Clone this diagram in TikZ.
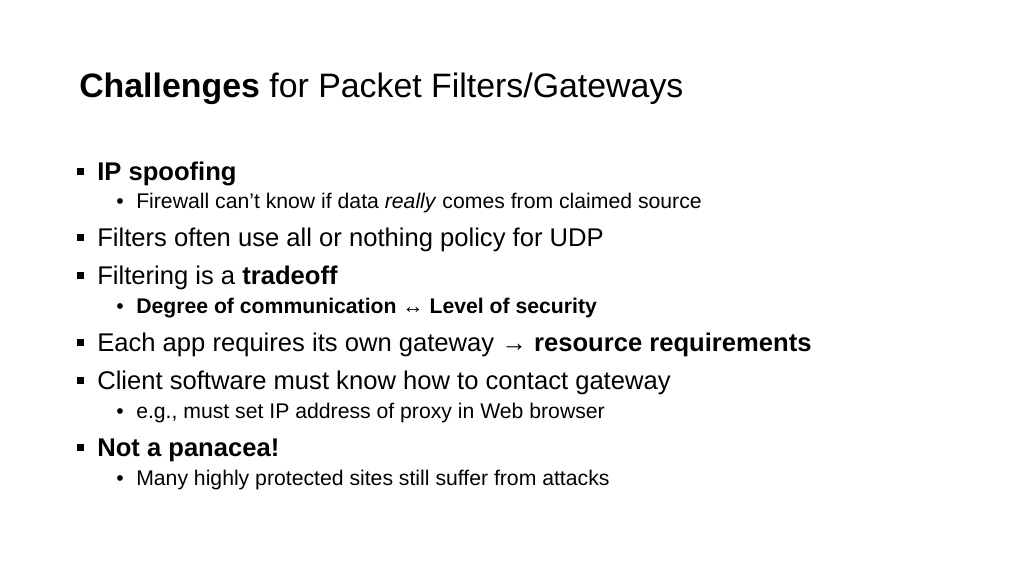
\documentclass[tikz,border=0pt]{standalone}
\usepackage{fontspec}
\setmainfont{Liberation Sans}
\usetikzlibrary{positioning}
\begin{document}
\begin{tikzpicture}[x=0.75pt,y=-0.75pt]
		\tikzset{title/.style = {anchor=base west, inner sep=0pt, font=\fontsize{25.4}{30}\selectfont}}
		\tikzset{itemA/.style = {anchor=base west, inner sep=0pt, font=\fontsize{19.2}{23}\selectfont}}
		\tikzset{itemB/.style = {anchor=base west, inner sep=0pt, font=\fontsize{15.9}{19}\selectfont}}
		\tikzset{boxbullet/.style = {fill=black, inner sep=0pt, minimum size=5.5pt}}
		\tikzset{dotbullet/.style = {anchor=base east, inner sep=0pt, font=\fontsize{15.9}{19}\selectfont}}
		
		\useasboundingbox (0,0) rectangle (1024,576);
		
		\node[title] (t) at (79,97) {\textbf{Challenges} for Packet Filters/Gateways};
		
		\node[itemA] (a1) at (97,180) {\textbf{IP spoofing}};
		\node[itemB] (b1) at (136,208) {Firewall can’t know if data \textit{really} comes from claimed source};
		\node[itemA] (a2) at (97,246) {Filters often use all or nothing policy for UDP};
		\node[itemA] (a3) at (97,284) {Filtering is a \textbf{tradeoff}};
		\node[itemB] (b2) at (136,313) {\textbf{Degree of communication ↔ Level of security}};
		\node[itemA] (a4) at (97,351) {Each app requires its own gateway → \textbf{resource requirements}};
		\node[itemA] (a5) at (97,389) {Client software must know how to contact gateway};
		\node[itemB] (b3) at (136,418) {e.g., must set IP address of proxy in Web browser};
		\node[itemA] (a6) at (97,456) {\textbf{Not a panacea!}};
		\node[itemB] (b4) at (136,485) {Many highly protected sites still suffer from attacks};
		
		\foreach \n in {a1,a2,a3,a4,a5,a6}
			\node[boxbullet] at ([xshift=-12.5pt,yshift=6.5pt]\n.base west) {};
		\foreach \n in {b1,b2,b3,b4}
			\node[dotbullet] at ([xshift=-9pt]\n.base west) {•};
\end{tikzpicture}
\end{document}
